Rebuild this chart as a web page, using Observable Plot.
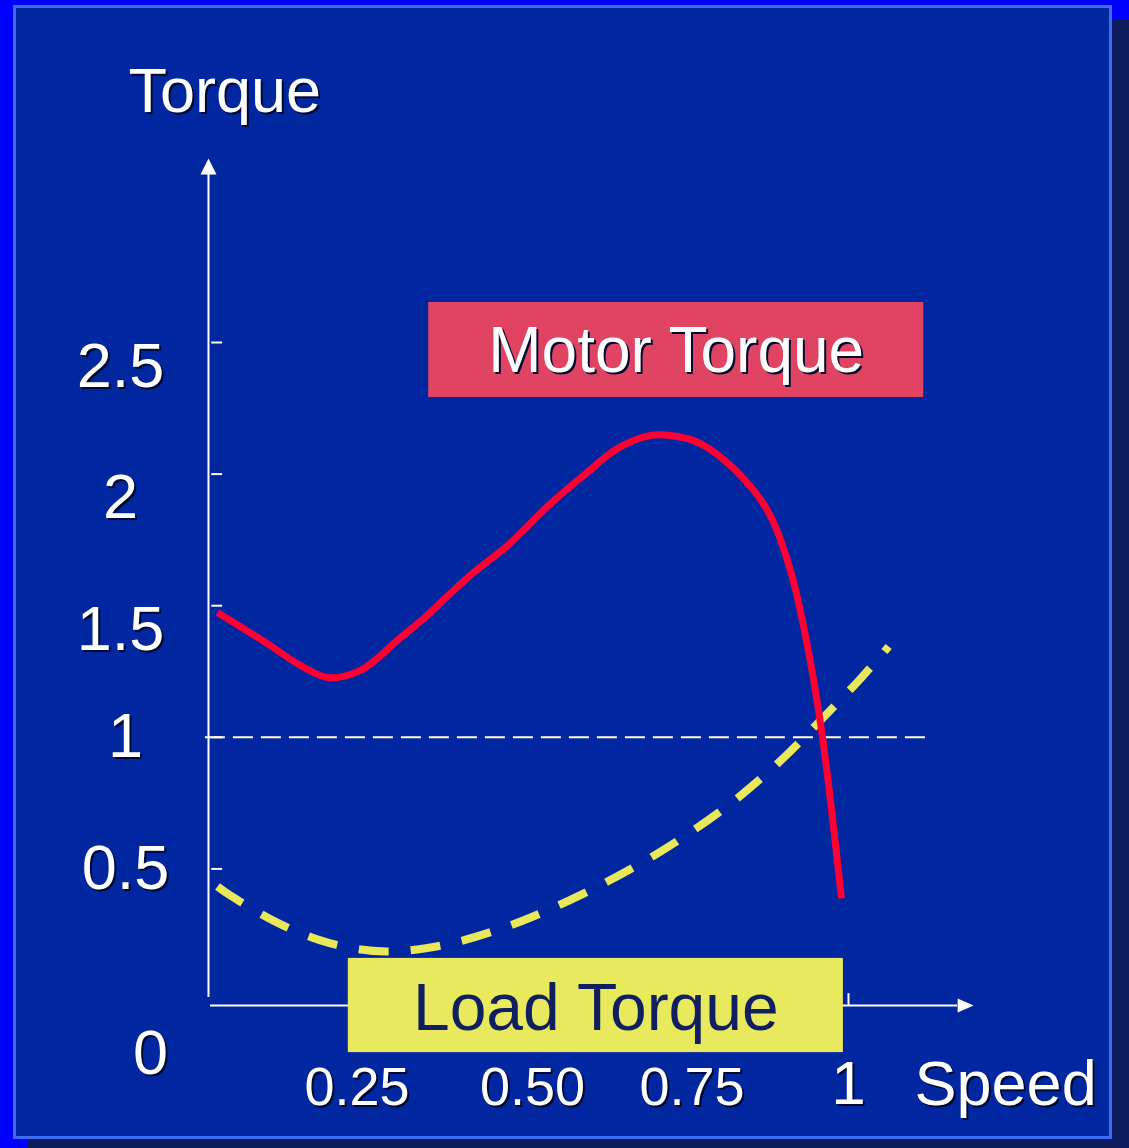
<!DOCTYPE html>
<html>
<head>
<meta charset="utf-8">
<script src="https://cdn.jsdelivr.net/npm/d3@7"></script>
<script src="https://cdn.jsdelivr.net/npm/@observablehq/plot@0.6"></script>
<style>
  html, body { margin: 0; padding: 0; background: #0000ff; overflow: hidden; width: 1129px; height: 1148px; }
  #stage { position: relative; width: 1129px; height: 1148px; }
  #shadow { position: absolute; left: 28px; top: 20px; width: 1101px; height: 1128px; background: #0b1b5c; }
  #panel { position: absolute; left: 13px; top: 5px; width: 1099px; height: 1134px; background: #0026a0; border: 3px solid #3a6cf7; box-sizing: border-box; }
  #chart { position: absolute; left: 0; top: 0; }
</style>
</head>
<body>
<div id="stage">
  <div id="shadow"></div>
  <div id="panel"></div>
  <div id="chart"></div>
</div>
<script>
// ---- data ----
const motorSpeed = [0.011, 0.089, 0.141, 0.185, 0.235, 0.298, 0.334, 0.403, 0.466, 0.490, 0.533, 0.585, 0.638, 0.690, 0.732, 0.768, 0.820, 0.873, 0.909, 0.934, 0.958, 0.989];
const motorTorque = [1.474, 1.356, 1.273, 1.227, 1.254, 1.379, 1.451, 1.607, 1.729, 1.785, 1.888, 1.995, 2.097, 2.147, 2.143, 2.116, 2.021, 1.862, 1.634, 1.368, 1.022, 0.388];

const loadSpeed = [0.011, 0.031, 0.107, 0.188, 0.276, 0.362, 0.447, 0.520, 0.607, 0.685, 0.759, 0.829, 0.897, 0.956, 1.019, 1.063];
const loadTorque = [0.433, 0.399, 0.293, 0.217, 0.186, 0.209, 0.266, 0.334, 0.433, 0.536, 0.650, 0.775, 0.919, 1.064, 1.223, 1.345];

const yTicks = [0, 0.5, 1, 1.5, 2, 2.5];
const yTickLabels = ["0", "0.5", "1", "1.5", "2", "2.5"];
const xTicks = [0.25, 0.5, 0.75, 1];
const xTickLabels = ["0.25", "0.50", "0.75", "1"];
const ratedTorque = 1;
const axisTitles = ["Torque", "Speed"];
const seriesLabels = ["Motor Torque", "Load Torque"];

// annotation boxes (data units)
const motorBox = {x1: 0.342, x2: 1.118, y1: 2.291, y2: 2.652};
const loadBox = {x1: 0.216, x2: 0.992, y1: -0.198, y2: 0.160};
const xAxisEnd = 1.171, yAxisEnd = 3.138;

// ---- styles ----
const FONT = "Liberation Sans, Arial, Helvetica, sans-serif";
const WHITE = "#ffffff";
const SHADOW = "#000a30";

const arrowUp = {draw(ctx) { ctx.moveTo(0, -16); ctx.lineTo(8, 0); ctx.lineTo(-8, 0); ctx.closePath(); }};
const arrowRight = {draw(ctx) { ctx.moveTo(16, 0); ctx.lineTo(0, -7); ctx.lineTo(0, 7); ctx.closePath(); }};

function shadowed(data, opts) {
  return [
    Plot.text(data, {...opts, fill: SHADOW, dx: (opts.dx || 0) + 2, dy: (opts.dy || 0) + 2}),
    Plot.text(data, opts)
  ];
}

const idx = (arr) => arr.map((_, i) => i);
const yLabel = {x: 0, y: i => yTicks[i], text: i => yTickLabels[i], fill: WHITE, fontSize: 63, fontFamily: FONT, textAnchor: "middle", lineAnchor: "middle"};
const xLabel = {x: i => xTicks[i], y: 0, text: i => xTickLabels[i], fill: WHITE, fontSize: 54, fontFamily: FONT, textAnchor: "middle", lineAnchor: "middle"};

const chart = Plot.plot({
  width: 1129,
  height: 1148,
  marginLeft: 210,
  marginRight: 281,
  marginTop: 342,
  marginBottom: 148,
  style: {background: "transparent", fontFamily: FONT, overflow: "visible"},
  x: {domain: [0, 1], axis: null},
  y: {domain: [0, 2.5], axis: null},
  marks: [
    // reference line at rated torque
    Plot.ruleY([ratedTorque], {x1: -0.008, x2: 1.127, stroke: WHITE, strokeWidth: 2, strokeDasharray: "20,8"}),
    // axes
    Plot.ruleX([0], {y1: 0.011, y2: yAxisEnd, stroke: WHITE, strokeWidth: 2, dx: -2}),
    Plot.dot([0], {x: 0, y: yAxisEnd, symbol: arrowUp, fill: WHITE, stroke: null, dx: -2}),
    Plot.ruleY([0], {x1: 0, x2: xAxisEnd, stroke: WHITE, strokeWidth: 2, dy: 5}),
    Plot.dot([0], {x: xAxisEnd, y: 0, symbol: arrowRight, fill: WHITE, stroke: null, dy: 5}),
    Plot.ruleY(yTicks.filter(d => d > 0), {x1: 0.002, x2: 0.019, stroke: WHITE, strokeWidth: 2}),
    Plot.ruleX(xTicks, {y1: 0, y2: 0.045, stroke: WHITE, strokeWidth: 2, dy: 5}),
    // curves
    Plot.line(idx(loadSpeed), {x: loadSpeed, y: loadTorque, curve: "catmull-rom", stroke: "#e8e85a", strokeWidth: 8, strokeDasharray: "30,22", strokeLinecap: "butt"}),
    Plot.line(idx(motorSpeed), {x: motorSpeed, y: motorTorque, curve: "catmull-rom", stroke: "#ff0033", strokeWidth: 7, strokeLinecap: "butt", strokeLinejoin: "round"}),
    // label boxes
    Plot.rect([motorBox], {x1: "x1", x2: "x2", y1: "y1", y2: "y2", fill: "#e04462"}),
    Plot.rect([loadBox], {x1: "x1", x2: "x2", y1: "y1", y2: "y2", fill: "#e9e95e"}),
    ...shadowed([seriesLabels[0]], {x: (motorBox.x1 + motorBox.x2) / 2, y: (motorBox.y1 + motorBox.y2) / 2, text: d => d, fill: WHITE, fontSize: 64, fontFamily: FONT, lineAnchor: "middle", textAnchor: "middle", dy: 2}),
    Plot.text([seriesLabels[1]], {x: (loadBox.x1 + loadBox.x2) / 2, y: (loadBox.y1 + loadBox.y2) / 2, text: d => d, fill: "#0f1f5f", fontSize: 66, fontFamily: FONT, lineAnchor: "middle", textAnchor: "middle", dy: 3}),
    // y tick labels
    ...shadowed(idx(yTicks).filter(i => yTicks[i] >= 1.5), {...yLabel, dx: -90, dy: 24}),
    ...shadowed(idx(yTicks).filter(i => yTicks[i] > 0 && yTicks[i] < 1.5), {...yLabel, dx: -85, dy: 0}),
    ...shadowed(idx(yTicks).filter(i => yTicks[i] === 0), {...yLabel, dx: -60, dy: 53}),
    // x tick labels
    ...shadowed(idx(xTicks).filter(i => xTicks[i] === 0.25), {...xLabel, dx: -13, dy: 87}),
    ...shadowed(idx(xTicks).filter(i => xTicks[i] > 0.25 && xTicks[i] < 1), {...xLabel, dx: 3, dy: 87}),
    ...shadowed(idx(xTicks).filter(i => xTicks[i] === 1), {...xLabel, fontSize: 62, dx: 0, dy: 84}),
    // axis titles
    ...shadowed([axisTitles[0]], {x: 0, y: yAxisEnd, text: d => d, fill: WHITE, fontSize: 63, fontFamily: FONT, textAnchor: "start", lineAnchor: "middle", dx: -82, dy: -83}),
    ...shadowed([axisTitles[1]], {x: 1, y: 0, text: d => d, fill: WHITE, fontSize: 63, fontFamily: FONT, textAnchor: "start", lineAnchor: "middle", dx: 66, dy: 84})
  ]
});
document.getElementById("chart").appendChild(chart);
</script>
</body>
</html>
